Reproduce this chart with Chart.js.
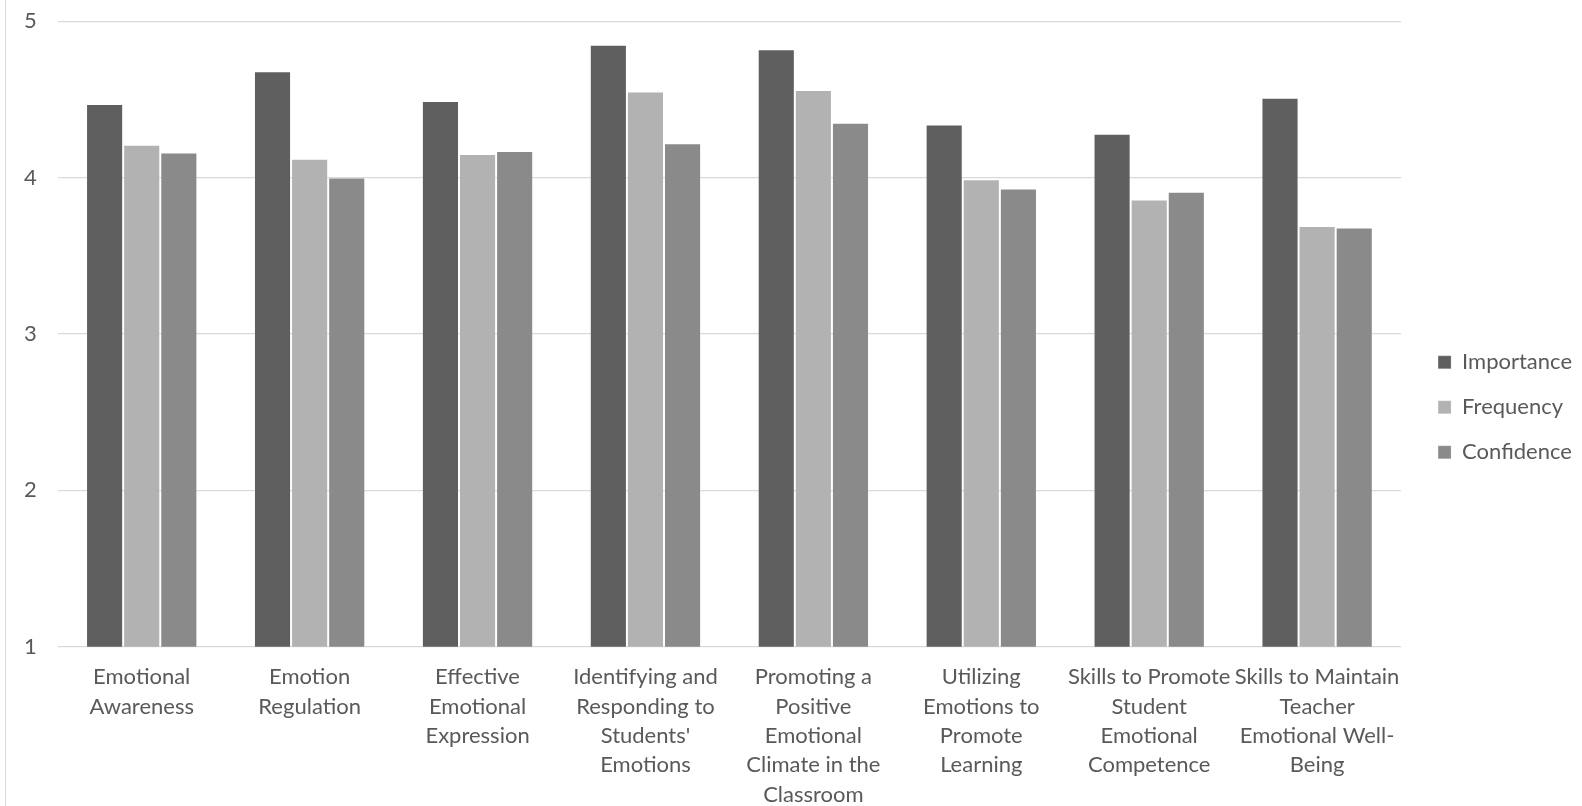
<!DOCTYPE html>
<html>
<head>
<meta charset="utf-8">
<script src="https://cdn.jsdelivr.net/npm/chart.js@4.4.1/dist/chart.umd.min.js"></script>
<style>
  html, body { margin: 0; padding: 0; background: #fff; }
  #wrap { position: relative; width: 1582px; height: 806px; }
  #frame { position: absolute; left: 5px; top: 0; width: 0; height: 806px; border-left: 1px solid #d9d9d9; }
</style>
</head>
<body>
<div id="wrap">
  <div id="frame"></div>
  <canvas id="chart"></canvas>
</div>
<script>
const categories = [
  ['Emotional', 'Awareness'],
  ['Emotion', 'Regulation'],
  ['Effective', 'Emotional', 'Expression'],
  ['Identifying and', 'Responding to', "Students'", 'Emotions'],
  ['Promoting a', 'Positive', 'Emotional', 'Climate in the', 'Classroom'],
  ['Utilizing', 'Emotions to', 'Promote', 'Learning'],
  ['Skills to Promote', 'Student', 'Emotional', 'Competence'],
  ['Skills to Maintain', 'Teacher', 'Emotional Well-', 'Being']
];
const importance = [4.47, 4.68, 4.49, 4.85, 4.82, 4.34, 4.28, 4.51];
const frequency  = [4.21, 4.12, 4.15, 4.55, 4.56, 3.99, 3.86, 3.69];
const confidence = [4.16, 4.00, 4.17, 4.22, 4.35, 3.93, 3.91, 3.68];
const yTicks = [1, 2, 3, 4, 5];

const FONT = 'Lato, "Liberation Sans", sans-serif';
const TEXT = '#595959';

function series(label, data, color) {
  return {
    label, data,
    backgroundColor: color,
    borderColor: 'rgba(255,255,255,0.22)',
    borderWidth: 1,
    borderSkipped: 'start',
    categoryPercentage: 0.663,
    barPercentage: 1.0
  };
}

new Chart(document.getElementById('chart'), {
  type: 'bar',
  data: {
    labels: categories,
    datasets: [
      series('Importance', importance, '#5f5f5f'),
      series('Frequency', frequency, '#b2b2b2'),
      series('Confidence', confidence, '#8a8a8a')
    ]
  },
  options: {
    responsive: true,
    maintainAspectRatio: false,
    animation: false,
    layout: { padding: { left: 3, top: 8.7, right: 0, bottom: 0 } },
    plugins: {
      tooltip: { enabled: false },
      legend: {
        position: 'right',
        labels: {
          color: TEXT,
          font: { family: FONT, size: 22 },
          boxWidth: 13,
          boxHeight: 13,
          padding: 23
        }
      }
    },
    scales: {
      x: {
        grid: { display: false, drawTicks: false, tickLength: 0 },
        border: { display: false },
        ticks: {
          color: TEXT,
          font: { family: FONT, size: 22, lineHeight: 1.332 },
          padding: 16,
          maxRotation: 0,
          minRotation: 0,
          autoSkip: false
        },
        afterFit: s => { s.height = 159.3; }
      },
      y: {
        min: 1, max: 5,
        afterBuildTicks: s => { s.ticks = yTicks.map(v => ({ value: v })); },
        // keep the plot top at 21px, tick padding only sets the label gap
        afterFit: s => { s.paddingTop = 21.2; s.paddingBottom = 0; },
        grid: { color: '#d9d9d9', lineWidth: 1.2, drawTicks: false },
        border: { display: false },
        ticks: {
          color: TEXT,
          font: { family: FONT, size: 22 },
          padding: 21
        }
      },
      gap: {
        type: 'linear',
        position: 'right',
        grid: { display: false },
        border: { display: false },
        ticks: { display: false },
        afterFit: s => { s.width = 14; }
      }
    }
  }
});
</script>
</body>
</html>
